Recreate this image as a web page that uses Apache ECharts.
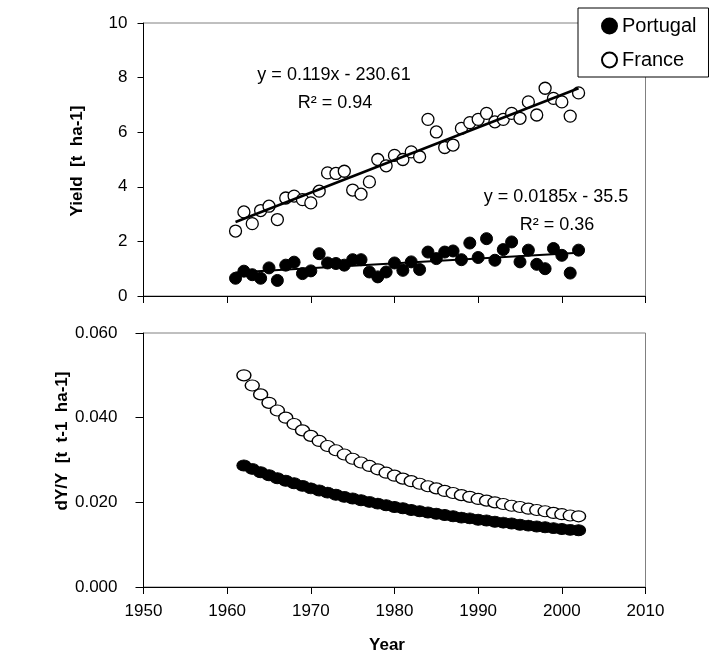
<!DOCTYPE html>
<html>
<head>
<meta charset="utf-8">
<script src="https://cdn.jsdelivr.net/npm/echarts@6/dist/echarts.min.js"></script>
<style>
  html, body { margin: 0; padding: 0; background: #fff; }
  #chart { width: 709px; height: 654px; }
</style>
</head>
<body>
<div id="chart"></div>
<script>
// ---- data ----
const yieldYears = [1961,1962,1963,1964,1965,1966,1967,1968,1969,1970,1971,1972,1973,1974,1975,1976,1977,1978,1979,1980,
  1981,1982,1983,1984,1985,1986,1987,1988,1989,1990,1991,1992,1993,1994,1995,1996,1997,1998,1999,2000,2001,2002];
const franceYield = [2.38,3.08,2.65,3.13,3.29,2.80,3.59,3.66,3.53,3.41,3.84,4.51,4.49,4.57,3.88,3.73,4.18,5.00,4.77,5.15,
  5.00,5.28,5.10,6.47,6.01,5.44,5.53,6.14,6.35,6.47,6.69,6.38,6.47,6.69,6.51,7.11,6.63,7.61,7.24,7.11,6.59,7.44];
const portugalYield = [0.65,0.91,0.78,0.65,1.03,0.57,1.13,1.24,0.82,0.92,1.55,1.21,1.19,1.13,1.33,1.33,0.88,0.70,0.88,1.21,
  0.94,1.25,0.97,1.61,1.37,1.61,1.65,1.33,1.94,1.41,2.10,1.31,1.70,1.98,1.25,1.68,1.16,1.00,1.74,1.49,0.84,1.68];
const trendYears = [1961, 2002];
const franceTrend = [2.71, 7.61];
const portugalTrend = [0.86, 1.58];

const dyYears = [1962,1963,1964,1965,1966,1967,1968,1969,1970,1971,1972,1973,1974,1975,1976,1977,1978,1979,1980,
  1981,1982,1983,1984,1985,1986,1987,1988,1989,1990,1991,1992,1993,1994,1995,1996,1997,1998,1999,2000,2001,2002];
const franceDY = [0.0500,0.0476,0.0455,0.0435,0.0417,0.0400,0.0385,0.0370,0.0357,0.0345,0.0333,0.0323,0.0313,0.0303,
  0.0294,0.0286,0.0278,0.0270,0.0263,0.0256,0.0250,0.0244,0.0238,0.0233,0.0227,0.0222,0.0217,0.0213,0.0208,0.0204,
  0.0200,0.0196,0.0192,0.0189,0.0185,0.0182,0.0179,0.0175,0.0172,0.0169,0.0167];
const portugalDY = [0.0287,0.0279,0.0271,0.0264,0.0257,0.0251,0.0245,0.0239,0.0233,0.0228,0.0223,0.0218,0.0213,0.0209,
  0.0205,0.0201,0.0197,0.0193,0.0189,0.0186,0.0182,0.0179,0.0176,0.0173,0.0170,0.0167,0.0164,0.0162,0.0159,0.0157,
  0.0154,0.0152,0.0150,0.0147,0.0145,0.0143,0.0141,0.0139,0.0137,0.0135,0.0134];

const xTicks = {min: 1950, max: 2010, interval: 10};
const yieldTicks = {min: 0, max: 10, interval: 2};
const dyTicks = {min: 0, max: 0.06, interval: 0.02};

// ---- chart ----
const FONT = 'Liberation Sans, Arial, Helvetica, sans-serif';
const zip = (xs, ys) => xs.map((x, i) => [x, ys[i]]);
const chart = echarts.init(document.getElementById('chart'), null, {renderer: 'canvas'});

const axisCommon = {
  type: 'value',
  axisLine: {show: true, onZero: false, lineStyle: {color: '#000', width: 1}},
  axisTick: {show: true, inside: false, length: 7, lineStyle: {color: '#000', width: 1}},
  splitLine: {show: false},
  axisLabel: {color: '#000', fontFamily: FONT, fontSize: 17}
};

const franceStyle = {color: '#fff', borderColor: '#000', borderWidth: 1.3, opacity: 1};
const portugalStyle = {color: '#000', borderColor: '#000', borderWidth: 1, opacity: 1};

const option = {
  backgroundColor: '#fff',
  animation: false,
  grid: [
    {left: 143.5, top: 23, width: 502, height: 273, show: true, borderColor: '#808080', borderWidth: 1, backgroundColor: 'transparent'},
    {left: 143.5, top: 333, width: 502, height: 254, show: true, borderColor: '#808080', borderWidth: 1, backgroundColor: 'transparent'}
  ],
  xAxis: [
    Object.assign({}, axisCommon, {gridIndex: 0, ...xTicks, axisLabel: {show: false}}),
    Object.assign({}, axisCommon, {gridIndex: 1, ...xTicks,
      axisLabel: {color: '#000', fontFamily: FONT, fontSize: 17, margin: 16, formatter: v => String(v)}})
  ],
  yAxis: [
    Object.assign({}, axisCommon, {gridIndex: 0, ...yieldTicks,
      axisTick: {show: true, length: 6, lineStyle: {color: '#000'}},
      axisLabel: {color: '#000', fontFamily: FONT, fontSize: 17, margin: 16}}),
    Object.assign({}, axisCommon, {gridIndex: 1, ...dyTicks,
      axisTick: {show: true, length: 8, lineStyle: {color: '#000'}},
      axisLabel: {color: '#000', fontFamily: FONT, fontSize: 17, margin: 26,
        formatter: v => v.toFixed(3)}})
  ],
  legend: {
    data: ['Portugal', 'France'],
    orient: 'vertical',
    left: 578, top: 8,
    icon: 'circle',
    itemWidth: 15, itemHeight: 15,
    itemGap: 14,
    padding: [8, 12, 7, 23],
    backgroundColor: '#fff',
    borderColor: '#000', borderWidth: 1,
    textStyle: {color: '#000', fontFamily: FONT, fontSize: 20},
    z: 10
  },
  series: [
    {name: 'Portugal', type: 'scatter', xAxisIndex: 0, yAxisIndex: 0, symbol: 'circle', symbolSize: 12,
      itemStyle: portugalStyle, data: zip(yieldYears, portugalYield), z: 2},
    {name: 'France', type: 'scatter', xAxisIndex: 0, yAxisIndex: 0, symbol: 'circle', symbolSize: 12,
      itemStyle: franceStyle, data: zip(yieldYears, franceYield), z: 2},
    {name: 'France trend', type: 'line', xAxisIndex: 0, yAxisIndex: 0, showSymbol: false, symbol: 'none',
      lineStyle: {color: '#000', width: 2.5}, data: zip(trendYears, franceTrend), z: 3, silent: true},
    {name: 'Portugal trend', type: 'line', xAxisIndex: 0, yAxisIndex: 0, showSymbol: false, symbol: 'none',
      lineStyle: {color: '#000', width: 2}, data: zip(trendYears, portugalTrend), z: 3, silent: true},
    {name: 'Portugal', type: 'scatter', xAxisIndex: 1, yAxisIndex: 1, symbol: 'circle', symbolSize: [14, 11],
      itemStyle: portugalStyle, data: zip(dyYears, portugalDY), z: 2},
    {name: 'France', type: 'scatter', xAxisIndex: 1, yAxisIndex: 1, symbol: 'circle', symbolSize: [14, 11],
      itemStyle: franceStyle, data: zip(dyYears, franceDY), z: 2}
  ],
  graphic: [
    {type: 'text', x: 77, y: 161, rotation: Math.PI / 2, style: {text: 'Yield  [t  ha-1]', font: 'bold 17px ' + FONT, fill: '#000', align: 'center', verticalAlign: 'middle'}},
    {type: 'text', x: 62, y: 441, rotation: Math.PI / 2, style: {text: 'dY/Y  [t  t-1  ha-1]', font: 'bold 17px ' + FONT, fill: '#000', align: 'center', verticalAlign: 'middle'}},
    {type: 'text', x: 387, y: 645, style: {text: 'Year', font: 'bold 17px ' + FONT, fill: '#000', align: 'center', verticalAlign: 'middle'}},
    {type: 'text', x: 334, y: 75, style: {text: 'y = 0.119x - 230.61', font: '18px ' + FONT, fill: '#000', align: 'center', verticalAlign: 'middle'}},
    {type: 'text', x: 335, y: 103, style: {text: 'R² = 0.94', font: '18px ' + FONT, fill: '#000', align: 'center', verticalAlign: 'middle'}},
    {type: 'text', x: 556, y: 197, style: {text: 'y = 0.0185x - 35.5', font: '18px ' + FONT, fill: '#000', align: 'center', verticalAlign: 'middle'}},
    {type: 'text', x: 557, y: 225, style: {text: 'R² = 0.36', font: '18px ' + FONT, fill: '#000', align: 'center', verticalAlign: 'middle'}}
  ]
};
chart.setOption(option);
</script>
</body>
</html>
